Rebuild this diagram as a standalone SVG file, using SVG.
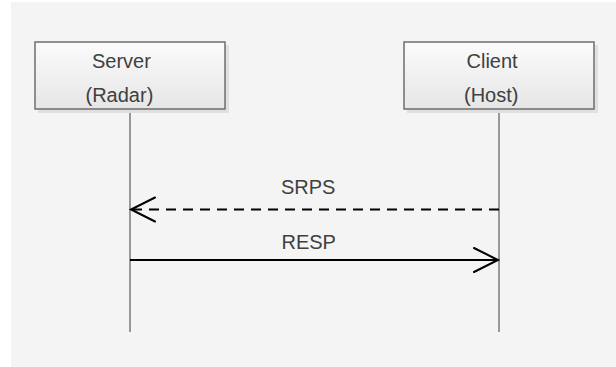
<svg xmlns="http://www.w3.org/2000/svg" width="616" height="367" viewBox="0 0 616 367">
  <defs>
    <linearGradient id="boxFill" x1="0" y1="0" x2="0" y2="1">
      <stop offset="0" stop-color="#fbfbfb"/>
      <stop offset="1" stop-color="#e6e6e6"/>
    </linearGradient>
    <style>
      .shadow { fill: #e0e0e0; }
      .box { fill: url(#boxFill); stroke: #6e6e6e; stroke-width: 1.5; }
      .label { font-family: "Liberation Sans", Arial, sans-serif; font-size: 20px; fill: #404040; }
      .life { stroke: #7a7a7a; stroke-width: 1.5; fill: none; }
      .msg { stroke: #000; stroke-width: 2; fill: none; }
      .dash { stroke-dasharray: 10 7; }
      .head { stroke: #000; stroke-width: 2; fill: none; stroke-linecap: round; stroke-linejoin: miter; }
    </style>
  </defs>
  <rect x="0" y="0" width="616" height="367" fill="#ffffff"/>
  <rect x="11" y="2" width="605" height="365" fill="#f4f4f4"/>

  <g id="connectors">
    <line class="life" x1="130" y1="109" x2="130" y2="332"/>
    <line class="life" x1="499" y1="109" x2="499" y2="332"/>
    <g id="msg-srps">
      <line class="msg dash" x1="499" y1="209.5" x2="131" y2="209.5"/>
      <polyline class="head" points="155,197.5 131,209.5 155,221.5"/>
      <text class="label" x="281" y="193.5">SRPS</text>
    </g>
    <g id="msg-resp">
      <line class="msg" x1="130" y1="260" x2="498" y2="260"/>
      <polyline class="head" points="474,248 498,260 474,272"/>
      <text class="label" x="281.5" y="249">RESP</text>
    </g>
  </g>

  <g id="server">
    <rect class="shadow" x="38" y="45" width="191" height="68"/>
    <rect class="box" x="35" y="42" width="190" height="67"/>
    <text class="label" x="92" y="68">Server</text>
    <text class="label" x="85.5" y="101.5">(Radar)</text>
  </g>

  <g id="client">
    <rect class="shadow" x="407" y="45" width="191" height="68"/>
    <rect class="box" x="404" y="42" width="190" height="67"/>
    <text class="label" x="466.5" y="68">Client</text>
    <text class="label" x="464" y="101.5">(Host)</text>
  </g>
</svg>
